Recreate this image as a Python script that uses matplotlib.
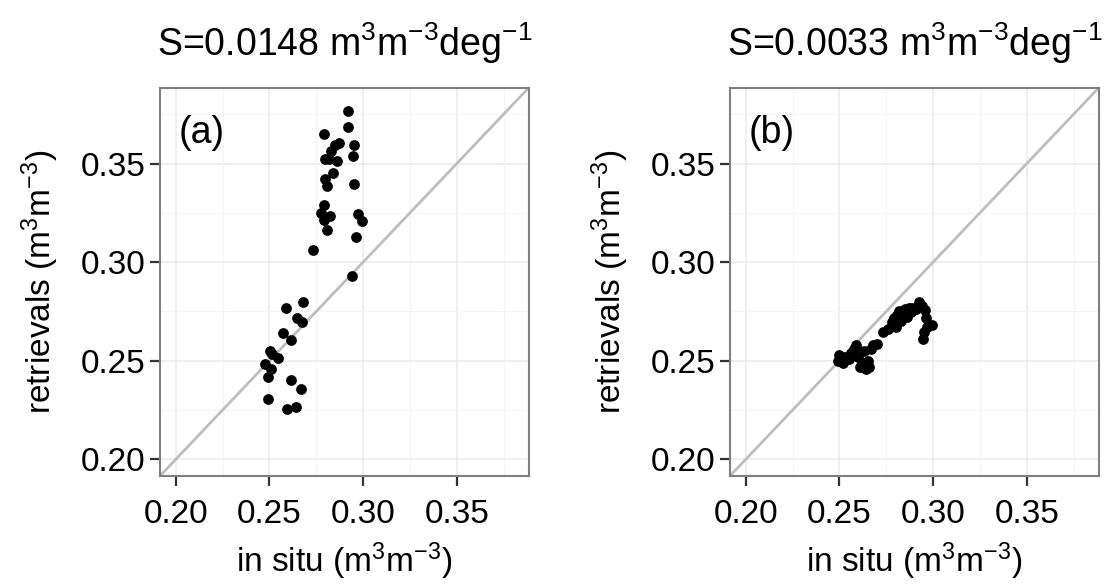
import numpy as np
import matplotlib
matplotlib.use("Agg")
import matplotlib.pyplot as plt

plt.rcParams['font.family'] = ['Liberation Sans', 'DejaVu Sans']
plt.rcParams['mathtext.fontset'] = 'custom'
plt.rcParams['mathtext.rm'] = 'Liberation Sans'
plt.rcParams['mathtext.it'] = 'Liberation Sans:italic'

# panel (a): in situ vs retrievals, S = 0.0148
insitu_a = [0.2918, 0.2918, 0.2793, 0.2952, 0.2872, 0.2850, 0.2827, 0.2948, 0.2795,
            0.2863, 0.2818, 0.2839, 0.2795, 0.2809, 0.2952, 0.2793, 0.2774, 0.2822,
            0.2791, 0.2975, 0.2996, 0.2809, 0.2960, 0.2733, 0.2939, 0.2681, 0.2589,
            0.2649, 0.2676, 0.2573, 0.2617, 0.2503, 0.2516, 0.2546, 0.2477, 0.2507,
            0.2495, 0.2614, 0.2667, 0.2495, 0.2596, 0.2640]
retr_a = [0.3764, 0.3687, 0.3648, 0.3594, 0.3602, 0.3594, 0.3565, 0.3536, 0.3523,
          0.3511, 0.3523, 0.3450, 0.3422, 0.3385, 0.3395, 0.3290, 0.3250, 0.3236,
          0.3216, 0.3245, 0.3209, 0.3162, 0.3126, 0.3060, 0.2932, 0.2800, 0.2767,
          0.2718, 0.2696, 0.2640, 0.2603, 0.2547, 0.2535, 0.2513, 0.2485, 0.2456,
          0.2417, 0.2404, 0.2358, 0.2304, 0.2253, 0.2265]

# panel (b): S = 0.0033
insitu_b = [0.249, 0.250, 0.252, 0.253, 0.255, 0.256, 0.258, 0.259, 0.260, 0.261,
            0.262, 0.263, 0.264, 0.265, 0.266, 0.267, 0.268, 0.270, 0.273, 0.276,
            0.278, 0.279, 0.280, 0.281, 0.282, 0.283, 0.284, 0.285, 0.286, 0.287,
            0.288, 0.289, 0.291, 0.2925, 0.294, 0.2955, 0.296, 0.2995, 0.297, 0.295,
            0.2945]
retr_b = [0.250, 0.253, 0.249, 0.252, 0.251, 0.254, 0.256, 0.258, 0.252, 0.247,
          0.249, 0.255, 0.246, 0.250, 0.247, 0.256, 0.258, 0.2585, 0.2645, 0.266,
          0.2695, 0.2715, 0.267, 0.273, 0.275, 0.270, 0.2745, 0.276, 0.272, 0.2765,
          0.2745, 0.277, 0.276, 0.2797, 0.278, 0.2755, 0.2715, 0.268, 0.267, 0.2645,
          0.261]

titles = [r'S=0.0148 m$^{3}$m$^{-3}$deg$^{-1}$', r'S=0.0033 m$^{3}$m$^{-3}$deg$^{-1}$']
tags = ['(a)', '(b)']
ticks = [0.20, 0.25, 0.30, 0.35]
minor = [0.225, 0.275, 0.325, 0.375]
lims = (0.1916, 0.3883)

fig = plt.figure(figsize=(11.07, 5.84), dpi=100)
lefts = [0.1445, 0.6594]

for i, (x, y) in enumerate([(insitu_a, retr_a), (insitu_b, retr_b)]):
    ax = fig.add_axes([lefts[i], 0.185, 0.3330, 0.6644])
    ax.set_xlim(lims)
    ax.set_ylim(lims)
    ax.set_xticks(ticks)
    ax.set_yticks(ticks)
    ax.set_xticks(minor, minor=True)
    ax.set_yticks(minor, minor=True)
    ax.set_xticklabels([f'{t:.2f}' for t in ticks])
    ax.set_yticklabels([f'{t:.2f}' for t in ticks])
    ax.grid(which='major', color='#ebebeb', lw=1.1)
    ax.grid(which='minor', color='#f5f5f5', lw=0.8)
    ax.set_axisbelow(True)
    ax.tick_params(which='minor', length=0)
    ax.tick_params(which='major', length=7.5, width=1.6, color='#333333',
                   labelsize=24)
    ax.tick_params(axis='x', pad=9)
    ax.tick_params(axis='y', pad=3)
    for s in ax.spines.values():
        s.set_color('#7f7f7f')
        s.set_linewidth(1.5)
    ax.axline((0.2, 0.2), slope=1, color='#bebebe', lw=2, zorder=2)
    ax.scatter(x, y, s=60, color='black', zorder=3, linewidths=0)
    ax.set_xlabel(r'in situ (m$^{3}$m$^{-3}$)', fontsize=24, labelpad=8)
    ax.set_ylabel(r'retrievals (m$^{3}$m$^{-3}$)', fontsize=24, labelpad=14)
    ax.set_title(titles[i], fontsize=27, pad=23)
    ax.text(0.05, 0.93, tags[i], transform=ax.transAxes, fontsize=27,
            va='top', ha='left')

fig.savefig('out.png', dpi=100)
